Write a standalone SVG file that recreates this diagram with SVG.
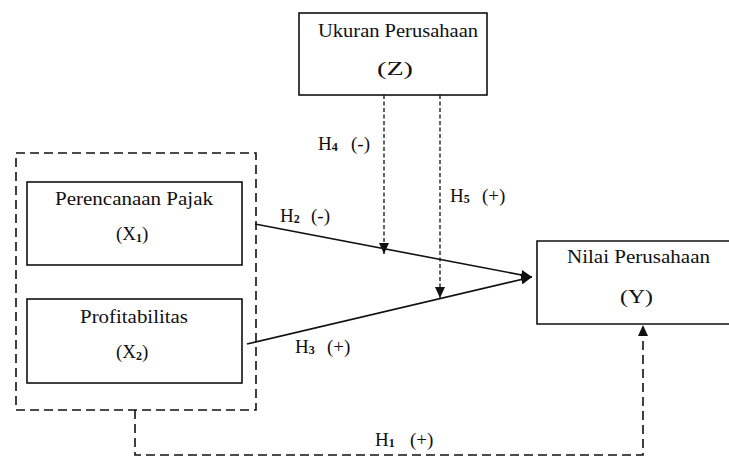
<svg xmlns="http://www.w3.org/2000/svg" width="729" height="457" viewBox="0 0 729 457">
<style>
text{font-family:"Liberation Serif","Times New Roman",serif;fill:#111;}
.lbl{font-size:19px;}
.h{font-size:19px;}
.sub{font-size:12px;font-weight:bold;}
.box{fill:none;stroke:#111;stroke-width:1.6;}
.solid{fill:none;stroke:#111;stroke-width:1.6;}
.fine{fill:none;stroke:#111;stroke-width:1.3;stroke-dasharray:4 2.5;}
.dash{fill:none;stroke:#111;stroke-width:1.6;stroke-dasharray:9 5;}
</style>
<defs>
<marker id="ah" markerUnits="userSpaceOnUse" markerWidth="12" markerHeight="10" refX="11" refY="5" orient="auto">
<path d="M0,0 L11,5 L0,10 Z" fill="#111"/>
</marker>
</defs>
<rect width="729" height="457" fill="#fff"/>

<g id="group-x">
<rect class="dash" x="16" y="153" width="240" height="257"/>
</g>

<g id="node-z">
<rect class="box" x="299" y="13" width="188" height="82"/>
<text class="lbl" x="318" y="37" textLength="160" lengthAdjust="spacingAndGlyphs">Ukuran Perusahaan</text>
<text class="lbl" x="377" y="75" textLength="36" lengthAdjust="spacingAndGlyphs">(Z)</text>
</g>

<g id="node-x1">
<rect class="box" x="27" y="182" width="215" height="83"/>
<text class="lbl" x="55" y="205" textLength="158" lengthAdjust="spacingAndGlyphs">Perencanaan Pajak</text>
<text class="lbl" x="116" y="240">(X<tspan class="sub" dy="2">1</tspan><tspan dy="-2">)</tspan></text>
</g>

<g id="node-x2">
<rect class="box" x="27" y="299" width="215" height="84"/>
<text class="lbl" x="80" y="323" textLength="108" lengthAdjust="spacingAndGlyphs">Profitabilitas</text>
<text class="lbl" x="116" y="358">(X<tspan class="sub" dy="2">2</tspan><tspan dy="-2">)</tspan></text>
</g>

<g id="node-y">
<path class="box" d="M735 241 H537 V324 H735"/>
<text class="lbl" x="567" y="263" textLength="143" lengthAdjust="spacingAndGlyphs">Nilai Perusahaan</text>
<text class="lbl" x="620" y="303" textLength="33" lengthAdjust="spacingAndGlyphs">(Y)</text>
</g>

<g id="connectors">
<path class="solid" d="M255 224 L532 277" marker-end="url(#ah)"/>
<path class="solid" d="M247 344 L532 277" marker-end="url(#ah)"/>
<path class="fine" d="M384 95 V254" marker-end="url(#ah)"/>
<path class="fine" d="M440 95 V298" marker-end="url(#ah)"/>
<path class="dash" d="M135 410 V455 H643 V325" marker-end="url(#ah)"/>
</g>

<g id="labels">
<text class="h" x="318" y="150">H<tspan class="sub" dy="1">4</tspan><tspan x="351" dy="-1">(-)</tspan></text>
<text class="h" x="450" y="202">H<tspan class="sub" dy="1">5</tspan><tspan x="482" dy="-1">(+)</tspan></text>
<text class="h" x="280" y="222">H<tspan class="sub" dy="1">2</tspan><tspan x="311" dy="-1">(-)</tspan></text>
<text class="h" x="295" y="353">H<tspan class="sub" dy="1">3</tspan><tspan x="327" dy="-1">(+)</tspan></text>
<text class="h" x="375" y="446">H<tspan class="sub" dy="1">1</tspan><tspan x="410" dy="-1">(+)</tspan></text>
</g>
</svg>
